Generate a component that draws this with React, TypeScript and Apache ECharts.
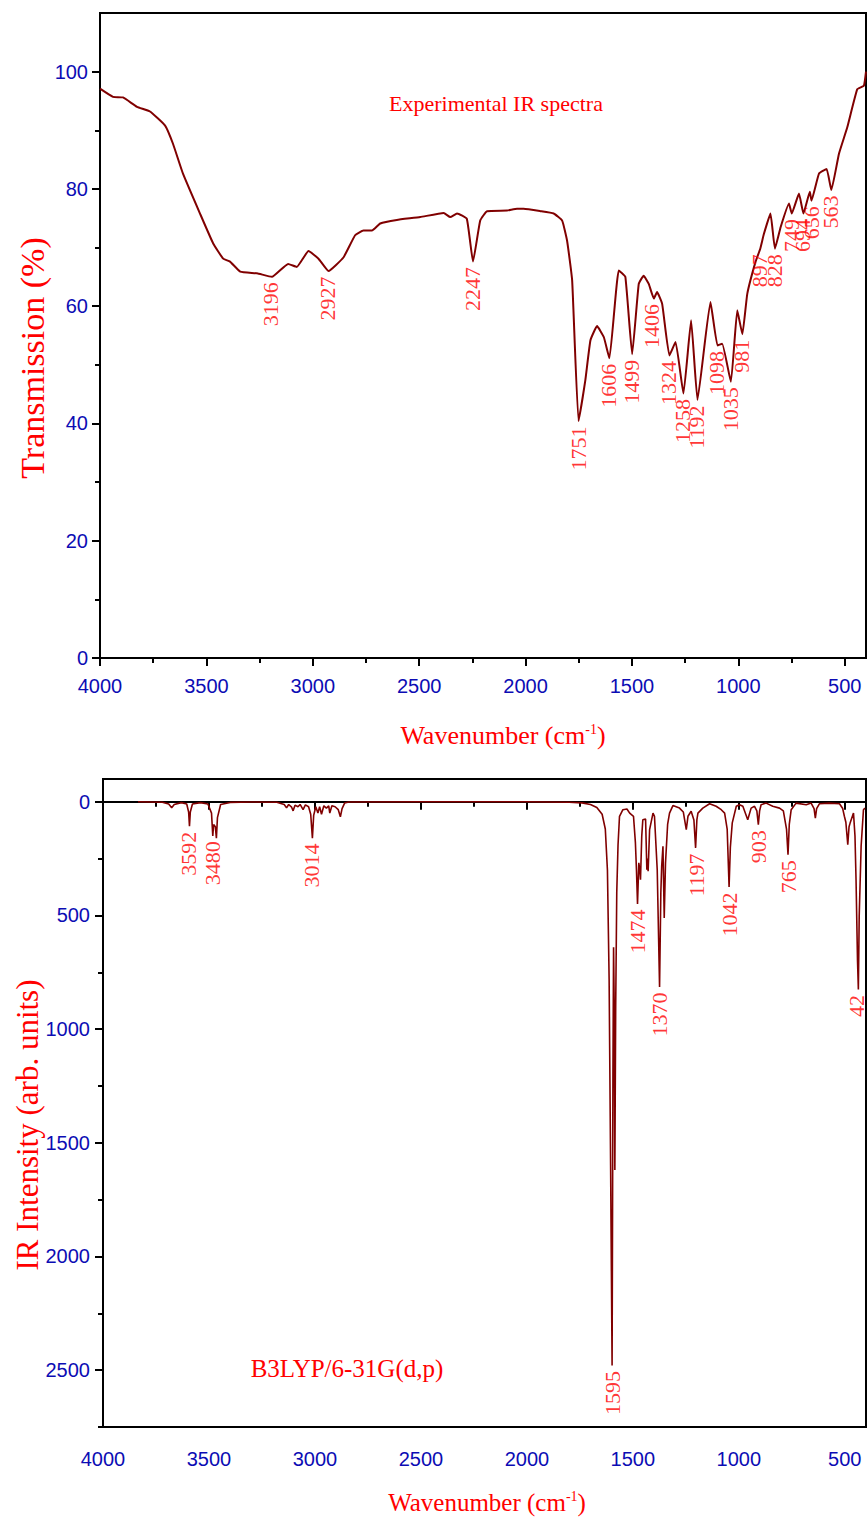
import React, { useEffect, useRef } from "react";
import * as echarts from "echarts";

// Experimental IR spectrum: [wavenumber (cm-1), transmission (%)]
const expSpectrum: [number, number][] = [
  [4000, 97.1], [3939, 95.7], [3892, 95.6], [3826, 94.0], [3765, 93.2], [3694, 90.8],
  [3657, 87.7], [3610, 82.6], [3530, 75.8], [3468, 70.7], [3421, 68.1], [3389, 67.6],
  [3341, 65.9], [3262, 65.6], [3192, 65.0], [3116, 67.2], [3075, 66.7], [3020, 69.4],
  [2973, 68.1], [2926, 66.0], [2856, 68.3], [2801, 72.1], [2762, 72.9], [2722, 72.9],
  [2683, 74.1], [2605, 74.7], [2495, 75.2], [2385, 75.9], [2354, 75.2], [2322, 75.8],
  [2276, 74.9], [2247, 67.6], [2213, 74.6], [2181, 76.2], [2087, 76.3], [2040, 76.6],
  [2009, 76.6], [1930, 76.2], [1868, 75.8], [1828, 74.6], [1805, 71.2], [1781, 64.4],
  [1751, 40.4], [1719, 47.4], [1695, 54.2], [1664, 56.6], [1632, 54.7], [1606, 51.1],
  [1562, 66.1], [1531, 65.0], [1499, 51.8], [1468, 63.8], [1445, 65.2], [1421, 63.8],
  [1397, 61.3], [1382, 62.4], [1358, 60.4], [1324, 51.6], [1295, 53.9], [1258, 45.1],
  [1222, 57.6], [1192, 44.0], [1131, 60.7], [1098, 53.3], [1076, 53.6], [1035, 47.1],
  [1005, 59.3], [981, 55.2], [958, 62.1], [919, 67.6], [897, 69.8], [880, 72.3],
  [849, 75.8], [828, 69.8], [801, 73.5], [762, 77.5], [749, 75.8], [715, 79.2],
  [694, 75.8], [664, 79.5], [656, 78.0], [621, 82.6], [585, 83.4], [563, 79.8],
  [527, 86.0], [488, 90.5], [441, 97.0], [410, 97.6], [400, 100.0],
];
const expPeaks: string[] = [
  "3196", "2927", "2247", "1751", "1606", "1499", "1406", "1324", "1258", "1192",
  "1098", "1035", "981", "897", "828", "749", "694", "656", "563",
];

// Calculated (B3LYP) IR spectrum: [wavenumber (cm-1), intensity (arb. units)]
const calcSpectrum: [number, number][] = [
  [3835, 0], [3720, 2], [3690, 10], [3676, 26], [3664, 12], [3630, 4], [3605, 10],
  [3596, 45], [3592, 108], [3588, 45], [3578, 10], [3540, 4], [3505, 10], [3488, 50],
  [3482, 150], [3478, 100], [3470, 110], [3465, 160], [3460, 70], [3445, 12], [3400, 3],
  [3300, 1], [3180, 2], [3145, 12], [3134, 27], [3124, 12], [3110, 24], [3103, 40],
  [3094, 15], [3080, 22], [3070, 12], [3056, 35], [3045, 14], [3030, 22], [3020, 55],
  [3012, 160], [3006, 60], [2996, 22], [2986, 50], [2978, 22], [2969, 55], [2958, 18],
  [2946, 28], [2935, 18], [2930, 50], [2920, 18], [2905, 22], [2890, 35], [2880, 66],
  [2872, 30], [2860, 6], [2840, 1], [2500, 0], [2000, 0], [1800, 2], [1740, 5],
  [1700, 12], [1670, 25], [1645, 55], [1630, 120], [1620, 300], [1612, 780],
  [1605, 1600], [1598, 2480], [1594, 1200], [1591, 640], [1588, 900], [1585, 1620],
  [1581, 900], [1576, 400], [1570, 190], [1563, 64], [1547, 35], [1528, 32],
  [1515, 50], [1497, 64], [1488, 180], [1483, 300], [1478, 450], [1472, 269],
  [1467, 300], [1464, 343], [1458, 150], [1453, 79], [1440, 76], [1434, 299],
  [1431, 250], [1428, 306], [1421, 123], [1405, 50], [1398, 64], [1385, 300],
  [1374, 815], [1368, 400], [1364, 284], [1358, 196], [1352, 511], [1346, 270],
  [1336, 100], [1327, 50], [1311, 17], [1280, 28], [1262, 45], [1248, 123],
  [1240, 64], [1225, 42], [1212, 80], [1204, 203], [1198, 80], [1193, 50],
  [1170, 28], [1138, 9], [1107, 20], [1083, 35], [1067, 50], [1055, 120],
  [1046, 375], [1040, 200], [1031, 93], [1012, 20], [997, 13], [981, 20], [958, 79],
  [942, 28], [926, 20], [915, 40], [908, 101], [902, 40], [895, 13], [871, 6],
  [840, 20], [808, 28], [790, 40], [775, 120], [768, 233], [762, 100], [753, 35],
  [730, 6], [682, 13], [659, 6], [645, 30], [639, 72], [633, 30], [620, 9], [573, 6],
  [525, 9], [510, 30], [502, 64], [495, 90], [486, 189], [480, 110], [475, 94],
  [459, 50], [452, 150], [447, 343], [440, 700], [436, 826], [432, 500], [423, 196],
  [412, 35], [405, 28],
];
const calcPeaks: [number, string][] = [
  [3592, "3592"], [3480, "3480"], [3014, "3014"], [1595, "1595"], [1474, "1474"],
  [1370, "1370"], [1197, "1197"], [1042, "1042"], [903, "903"], [765, "765"], [441, "42"],
];

const xMajorTicks = [4000, 3500, 3000, 2500, 2000, 1500, 1000, 500];
const xMinorTicks = [3750, 3250, 2750, 2250, 1750, 1250, 750];
const expYMajor = [0, 20, 40, 60, 80, 100];
const expYMinor = [10, 30, 50, 70, 90];
const calcYMajor = [0, 500, 1000, 1500, 2000, 2500];
const calcYMinor = [250, 750, 1250, 1750, 2250, 2750];

const BLUE = "#0c0cb4";
const RED = "#ff0000";
const LINE = "#800000";
const NUM_FONT = "'Liberation Sans', Arial, sans-serif";
const SERIF = "'Liberation Serif', 'Times New Roman', serif";

function peakAnchor(spec: [number, number][], wn: number, useMax: boolean): number {
  let best: number | null = null;
  for (const [x, y] of spec) {
    if (Math.abs(x - wn) <= 12) {
      if (best === null || (useMax ? y > best : y < best)) best = y;
    }
  }
  if (best !== null) return best;
  for (let i = 0; i < spec.length - 1; i++) {
    const [x0, y0] = spec[i];
    const [x1, y1] = spec[i + 1];
    if ((wn <= x0 && wn >= x1) || (wn >= x0 && wn <= x1)) {
      return y0 + ((y1 - y0) * (wn - x0)) / (x1 - x0);
    }
  }
  return 0;
}

const plainNumber = (v: number) => String(v);

function xAxes(gridIndex: number) {
  const base = {
    type: "value" as const,
    gridIndex,
    min: 400,
    max: 4000,
    inverse: true,
    position: "bottom" as const,
    splitLine: { show: false },
  };
  return [
    {
      ...base,
      axisLine: { show: true, lineStyle: { color: "#000", width: 2 } },
      axisTick: { show: true, customValues: xMajorTicks, length: 8, lineStyle: { color: "#000", width: 2 } },
      axisLabel: {
        show: true,
        customValues: xMajorTicks,
        formatter: plainNumber,
        color: BLUE,
        fontSize: 20,
        fontFamily: NUM_FONT,
        margin: gridIndex === 0 ? 18 : 22,
      },
    },
    {
      ...base,
      axisLine: { show: false },
      axisTick: { show: true, customValues: xMinorTicks, length: 5, lineStyle: { color: "#000", width: 2 } },
      axisLabel: { show: false },
    },
  ];
}

function yAxes(gridIndex: number, min: number, max: number, inverse: boolean, major: number[], minor: number[], margin: number) {
  const base = {
    type: "value" as const,
    gridIndex,
    min,
    max,
    inverse,
    position: "left" as const,
    splitLine: { show: false },
  };
  return [
    {
      ...base,
      axisLine: { show: true, lineStyle: { color: "#000", width: 2 } },
      axisTick: { show: true, customValues: major, length: 8, lineStyle: { color: "#000", width: 2 } },
      axisLabel: {
        show: true,
        customValues: major,
        formatter: plainNumber,
        color: BLUE,
        fontSize: 20,
        fontFamily: NUM_FONT,
        margin,
      },
    },
    {
      ...base,
      axisLine: { show: false },
      axisTick: { show: true, customValues: minor, length: 5, lineStyle: { color: "#000", width: 2 } },
      axisLabel: { show: false },
    },
  ];
}

function labelSeries(xAxisIndex: number, yAxisIndex: number, data: { value: [number, number]; name: string }[]) {
  return {
    type: "scatter" as const,
    xAxisIndex,
    yAxisIndex,
    symbolSize: 1,
    silent: true,
    itemStyle: { color: "rgba(0,0,0,0)" },
    data,
    label: {
      show: true,
      formatter: "{b}",
      rotate: 90,
      position: [0, 6],
      align: "right",
      verticalAlign: "middle",
      color: RED,
      fontSize: 22,
      fontFamily: SERIF,
    },
    z: 5,
  };
}

function textEl(text: string, x: number, y: number, fontSize: number, rotation = 0) {
  return {
    type: "text" as const,
    x,
    y,
    rotation,
    style: {
      text,
      fill: RED,
      font: `${fontSize}px ${SERIF}`,
      fontSize,
      fontFamily: SERIF,
      align: "center",
      verticalAlign: "middle",
      textAlign: "center",
      textVerticalAlign: "middle",
    },
  };
}

function wavenumberTitle(x: number, y: number, fontSize: number) {
  return {
    type: "text" as const,
    x,
    y,
    style: {
      text: "{a|Wavenumber (cm}{s|-1}{a|)}",
      align: "center",
      verticalAlign: "middle",
      textAlign: "center",
      textVerticalAlign: "middle",
      rich: {
        a: { fontSize, fontFamily: SERIF, color: RED, fill: RED, verticalAlign: "bottom" },
        s: { fontSize: Math.round(fontSize * 0.55), fontFamily: SERIF, color: RED, fill: RED, verticalAlign: "top" },
      },
    },
  };
}

export default function App() {
  const ref = useRef<HTMLDivElement>(null);

  useEffect(() => {
    if (!ref.current) return;
    const chart = echarts.init(ref.current, undefined, { renderer: "svg" });

    const expLabels = expPeaks.map((t) => {
      const wn = Number(t);
      return { value: [wn, peakAnchor(expSpectrum, wn, false)] as [number, number], name: t };
    });
    const calcLabels = calcPeaks.map(([wn, t]) => ({
      value: [wn, peakAnchor(calcSpectrum, wn, true)] as [number, number],
      name: t,
    }));

    chart.setOption({
      animation: false,
      backgroundColor: "#ffffff",
      grid: [
        { left: 100, top: 13, width: 766, height: 645, show: true, borderColor: "#000", borderWidth: 2, backgroundColor: "transparent" },
        { left: 103, top: 779, width: 763, height: 648, show: true, borderColor: "#000", borderWidth: 2, backgroundColor: "transparent" },
      ],
      xAxis: [...xAxes(0), ...xAxes(1)],
      yAxis: [
        ...yAxes(0, 0, 110, false, expYMajor, expYMinor, 12),
        ...yAxes(1, -100, 2750, true, calcYMajor, calcYMinor, 13),
      ],
      series: [
        {
          type: "line",
          xAxisIndex: 0,
          yAxisIndex: 0,
          data: expSpectrum,
          showSymbol: false,
          symbol: "none",
          smooth: 0.12,
          lineStyle: { color: LINE, width: 2 },
          silent: true,
          z: 3,
        },
        {
          type: "line",
          xAxisIndex: 2,
          yAxisIndex: 2,
          data: calcSpectrum,
          showSymbol: false,
          symbol: "none",
          lineStyle: { color: LINE, width: 1.6 },
          silent: true,
          z: 3,
        },
        labelSeries(0, 0, expLabels),
        labelSeries(2, 2, calcLabels),
      ],
      graphic: [
        textEl("Transmission (%)", 32, 358, 34, Math.PI / 2),
        textEl("Experimental IR spectra", 496, 103, 22),
        wavenumberTitle(503, 735, 26),
        textEl("IR Intensity (arb. units)", 27, 1125, 31, Math.PI / 2),
        textEl("B3LYP/6-31G(d,p)", 347, 1368, 25),
        wavenumberTitle(487, 1502, 25),
      ],
    });

    return () => chart.dispose();
  }, []);

  return (
    <div
      ref={ref}
      style={{ position: "absolute", left: 0, top: 0, width: 868, height: 1519, background: "#fff" }}
    />
  );
}
